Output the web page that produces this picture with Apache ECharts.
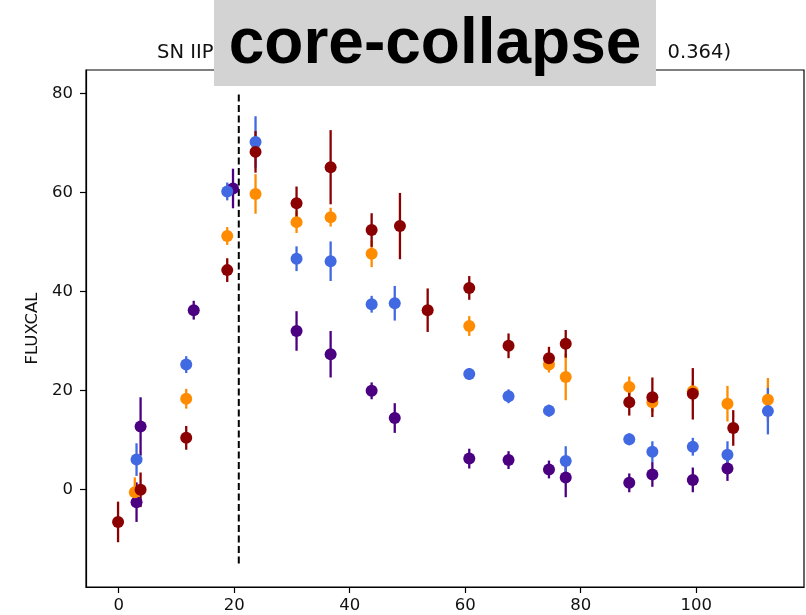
<!DOCTYPE html>
<html><head><meta charset="utf-8">
<script src="https://cdn.jsdelivr.net/npm/echarts@6/dist/echarts.min.js"></script>
<style>html,body{margin:0;padding:0;background:#fff}#c{width:806px;height:615px}</style>
</head><body><div id="c"></div>
<script>
// tick labels
const xTicks = [0, 20, 40, 60, 80, 100];
const yTicks = [0, 20, 40, 60, 80];

// band: indigo
const indigoX   = [3.1, 3.8, 13.0, 19.8, 30.8, 36.7, 43.8, 47.8, 60.7, 67.5, 74.5, 77.4, 88.4, 92.4, 99.4, 105.4];
const indigoY   = [-2.6, 12.7, 36.2, 60.8, 32.0, 27.3, 19.9, 14.4, 6.2, 5.9, 4.0, 2.4, 1.3, 3.0, 1.9, 4.2];
const indigoErr = [4.0, 5.9, 1.9, 4.0, 4.0, 4.7, 1.7, 3.0, 2.0, 1.8, 1.8, 4.0, 1.9, 2.5, 2.5, 2.5];

// band: orange
const orangeX   = [2.8, 11.7, 18.8, 23.7, 30.8, 36.7, 43.8, 60.7, 74.5, 77.4, 88.4, 92.4, 99.4, 105.4, 112.4];
const orangeY   = [-0.6, 18.3, 51.2, 59.7, 54.0, 55.0, 47.6, 33.0, 25.2, 22.7, 20.7, 17.6, 19.8, 17.3, 18.1];
const orangeErr = [3.0, 2.0, 1.8, 4.0, 2.2, 1.9, 2.7, 2.0, 1.6, 4.7, 2.1, 2.0, 2.0, 3.6, 4.4];

// band: blue
const blueX   = [3.1, 11.7, 18.8, 23.7, 30.8, 36.7, 43.8, 47.8, 60.7, 67.5, 74.5, 77.4, 88.4, 92.4, 99.4, 105.4, 112.4];
const blueY   = [6.0, 25.2, 60.2, 70.2, 46.6, 46.1, 37.4, 37.6, 23.3, 18.8, 15.9, 5.7, 10.1, 7.6, 8.6, 7.0, 15.8];
const blueErr = [3.3, 1.7, 1.8, 5.2, 2.5, 4.0, 1.7, 3.5, 1.2, 1.4, 1.2, 3.0, 1.2, 2.1, 1.8, 2.7, 4.7];

// band: darkred
const redX   = [-0.1, 3.8, 11.7, 18.8, 23.7, 30.8, 36.7, 43.8, 48.7, 53.5, 60.7, 67.5, 74.5, 77.4, 88.4, 92.4, 99.4, 106.4];
const redY   = [-6.6, -0.1, 10.4, 44.3, 68.2, 57.8, 65.1, 52.4, 53.2, 36.2, 40.7, 29.0, 26.5, 29.4, 17.6, 18.6, 19.3, 12.4];
const redErr = [4.1, 3.5, 2.4, 2.4, 4.2, 3.4, 7.5, 3.4, 6.7, 4.4, 2.4, 2.5, 2.3, 2.8, 2.7, 4.0, 5.2, 3.6];

// vertical peak marker
const peakX = 20.8;
const peakYRange = [-15, 80];

const bands = [
  {name: 'indigo', color: '#4B0082', x: indigoX, y: indigoY, e: indigoErr},
  {name: 'orange', color: '#FF8C00', x: orangeX, y: orangeY, e: orangeErr},
  {name: 'blue', color: '#4169E1', x: blueX, y: blueY, e: blueErr},
  {name: 'darkred', color: '#8B0000', x: redX, y: redY, e: redErr}
];

const chart = echarts.init(document.getElementById('c'), null, {renderer: 'canvas'});
const series = [];
series.push({
  type: 'custom', name: 'peak', z: 1,
  data: [[peakX, peakYRange[0], peakYRange[1]]],
  renderItem: function (params, api) {
    const p1 = api.coord([api.value(0), api.value(1)]);
    const p2 = api.coord([api.value(0), api.value(2)]);
    return {type: 'line', shape: {x1: p1[0], y1: p1[1], x2: p2[0], y2: p2[1]},
      style: {stroke: '#000', lineWidth: 2, lineDash: [7, 3.5]}};
  }
});
bands.forEach(function (b) {
  const d = b.x.map(function (xv, i) { return [xv, b.y[i], b.e[i]]; });
  series.push({
    type: 'custom', name: b.name + ' err', z: 2,
    data: d,
    renderItem: function (params, api) {
      const x = api.value(0), y = api.value(1), e = api.value(2);
      const p1 = api.coord([x, y - e]), p2 = api.coord([x, y + e]);
      return {type: 'line', shape: {x1: p1[0], y1: p1[1], x2: p2[0], y2: p2[1]},
        style: {stroke: b.color, lineWidth: 2.3}};
    }
  });
  series.push({
    type: 'scatter', name: b.name, z: 2,
    data: d.map(function (p) { return [p[0], p[1]]; }),
    symbol: 'circle', symbolSize: 12,
    itemStyle: {color: b.color, opacity: 1}
  });
});

const tickFont = {fontFamily: 'DejaVu Sans', fontSize: 16.5, color: '#111'};
chart.setOption({
  animation: false,
  backgroundColor: '#fff',
  grid: {left: 86, right: 2, top: 70, bottom: 28, show: true, borderColor: '#000', borderWidth: 1.2, backgroundColor: 'transparent'},
  xAxis: {
    type: 'value', min: -5.65, max: 118.65,
    splitLine: {show: false},
    axisLine: {show: true, onZero: false, lineStyle: {color: '#000', width: 1.2}},
    axisTick: {show: true, inside: false, length: 6, customValues: xTicks, lineStyle: {color: '#000', width: 1.2}},
    axisLabel: Object.assign({customValues: xTicks, margin: 10}, tickFont)
  },
  yAxis: {
    type: 'value', min: -19.75, max: 84.75,
    name: 'FLUXCAL', nameLocation: 'middle', nameGap: 43,
    nameTextStyle: {fontFamily: 'DejaVu Sans', fontSize: 16.5, color: '#111'},
    splitLine: {show: false},
    axisLine: {show: true, onZero: false, lineStyle: {color: '#000', width: 1.2}},
    axisTick: {show: true, inside: false, length: 6, customValues: yTicks, lineStyle: {color: '#000', width: 1.2}},
    axisLabel: Object.assign({customValues: yTicks, margin: 13}, tickFont)
  },
  graphic: [
    {type: 'text', z: 50, style: {text: 'SN IIP', x: 157, y: 52.5, textAlign: 'left', textVerticalAlign: 'middle', font: '19.5px "DejaVu Sans"', fill: '#111'}},
    {type: 'text', z: 50, style: {text: '0.364)', x: 731, y: 52.5, textAlign: 'right', textVerticalAlign: 'middle', font: '19.5px "DejaVu Sans"', fill: '#111'}},
    {type: 'rect', z: 100, shape: {x: 214, y: 0, width: 442, height: 86}, style: {fill: '#D3D3D3'}},
    {type: 'text', z: 101, style: {text: 'core-collapse', x: 435, y: 45, textAlign: 'center', textVerticalAlign: 'middle', font: 'bold 64px "Liberation Sans"', fill: '#000'}}
  ],
  series: series
});
</script>
</body></html>
